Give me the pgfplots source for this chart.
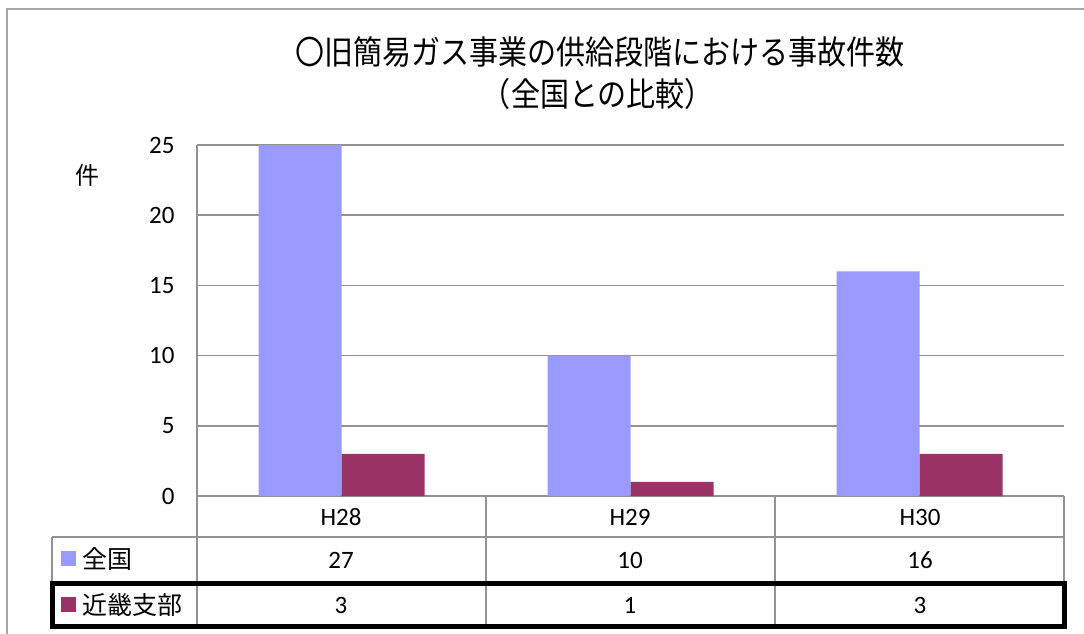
\documentclass[border=0pt]{standalone}
\usepackage{pgfplots}
\pgfplotsset{compat=1.18}
\usepackage{fontspec}
\setmainfont{Carlito}
\newfontfamily\jp{Noto Sans CJK JP}
\definecolor{blueb}{HTML}{9999FF}
\definecolor{redb}{HTML}{993366}
\definecolor{linegray}{HTML}{929292}
\definecolor{framegray}{HTML}{A6A6A6}
\begin{document}
\begin{tikzpicture}
\path[use as bounding box] (0,0) rectangle (1084pt,-634pt);
\begin{axis}[
  at={(197pt,-496pt)}, anchor=south west,
  scale only axis, width=867pt, height=351pt,
  xmin=0, xmax=3, ymin=0, ymax=25,
  ytick={0,5,10,15,20,25}, xtick=\empty,
  ybar=0pt, bar width=83pt,
  axis x line*=bottom, axis y line*=left,
  axis line style={draw=linegray, line width=1.5pt},
  ymajorgrids, grid style={draw=linegray, line width=1.5pt},
  major tick length=0pt,
  /pgf/number format/assume math mode=true,
  yticklabel style={font=\fontsize{25}{25}\selectfont, xshift=-19pt},
  clip=true,
]
\addplot[fill=blueb, draw=none] coordinates {(0.5,27) (1.5,10) (2.5,16)};
\addplot[fill=redb, draw=none] coordinates {(0.5,3) (1.5,1) (2.5,3)};
\end{axis}
\begin{scope}[x=1pt, y=-1pt]
  % chart frame
  \draw[framegray, line width=1.5pt] (7,640) -- (7,9) -- (1090,9);
  % title
  \node[font=\jp\fontsize{33}{33}\selectfont, xscale=0.88] at (600,52) {〇旧簡易ガス事業の供給段階における事故件数};
  \node[font=\jp\fontsize{33}{33}\selectfont, xscale=0.88] at (598,94) {（全国との比較）};
  % y unit
  \node[font=\jp\fontsize{24}{24}\selectfont] at (87,175) {件};
  % table grid
  \draw[linegray, line width=1.5pt] (197,496) -- (197,626);
  \draw[linegray, line width=1.5pt] (486,496) -- (486,626);
  \draw[linegray, line width=1.5pt] (775,496) -- (775,626);
  \draw[linegray, line width=1.5pt] (1064,496) -- (1064,583);
  \draw[linegray, line width=1.5pt] (52,537) -- (1064,537);
  \draw[linegray, line width=1.5pt] (52,537) -- (52,583);
  \draw[black, line width=5pt] (52,583) rectangle (1064,626);
  % header row
  \foreach \x/\t in {341/H28, 630/H29, 920/H30}
    \node[font=\fontsize{25}{25}\selectfont] at (\x,517) {\t};
  % rows
  \fill[blueb] (61,551) rectangle (76,566);
  \node[font=\jp\fontsize{25}{25}\selectfont, anchor=west, inner sep=0pt] at (82,559) {全国};
  \fill[redb] (61,597) rectangle (76,612);
  \node[font=\jp\fontsize{25}{25}\selectfont, anchor=west, inner sep=0pt] at (82,605) {近畿支部};
  \foreach \x/\t in {341/27, 630/10, 920/16}
    \node[font=\fontsize{25}{25}\selectfont] at (\x,560) {\t};
  \foreach \x/\t in {341/3, 630/1, 920/3}
    \node[font=\fontsize{25}{25}\selectfont] at (\x,605) {\t};
\end{scope}
\end{tikzpicture}
\end{document}
